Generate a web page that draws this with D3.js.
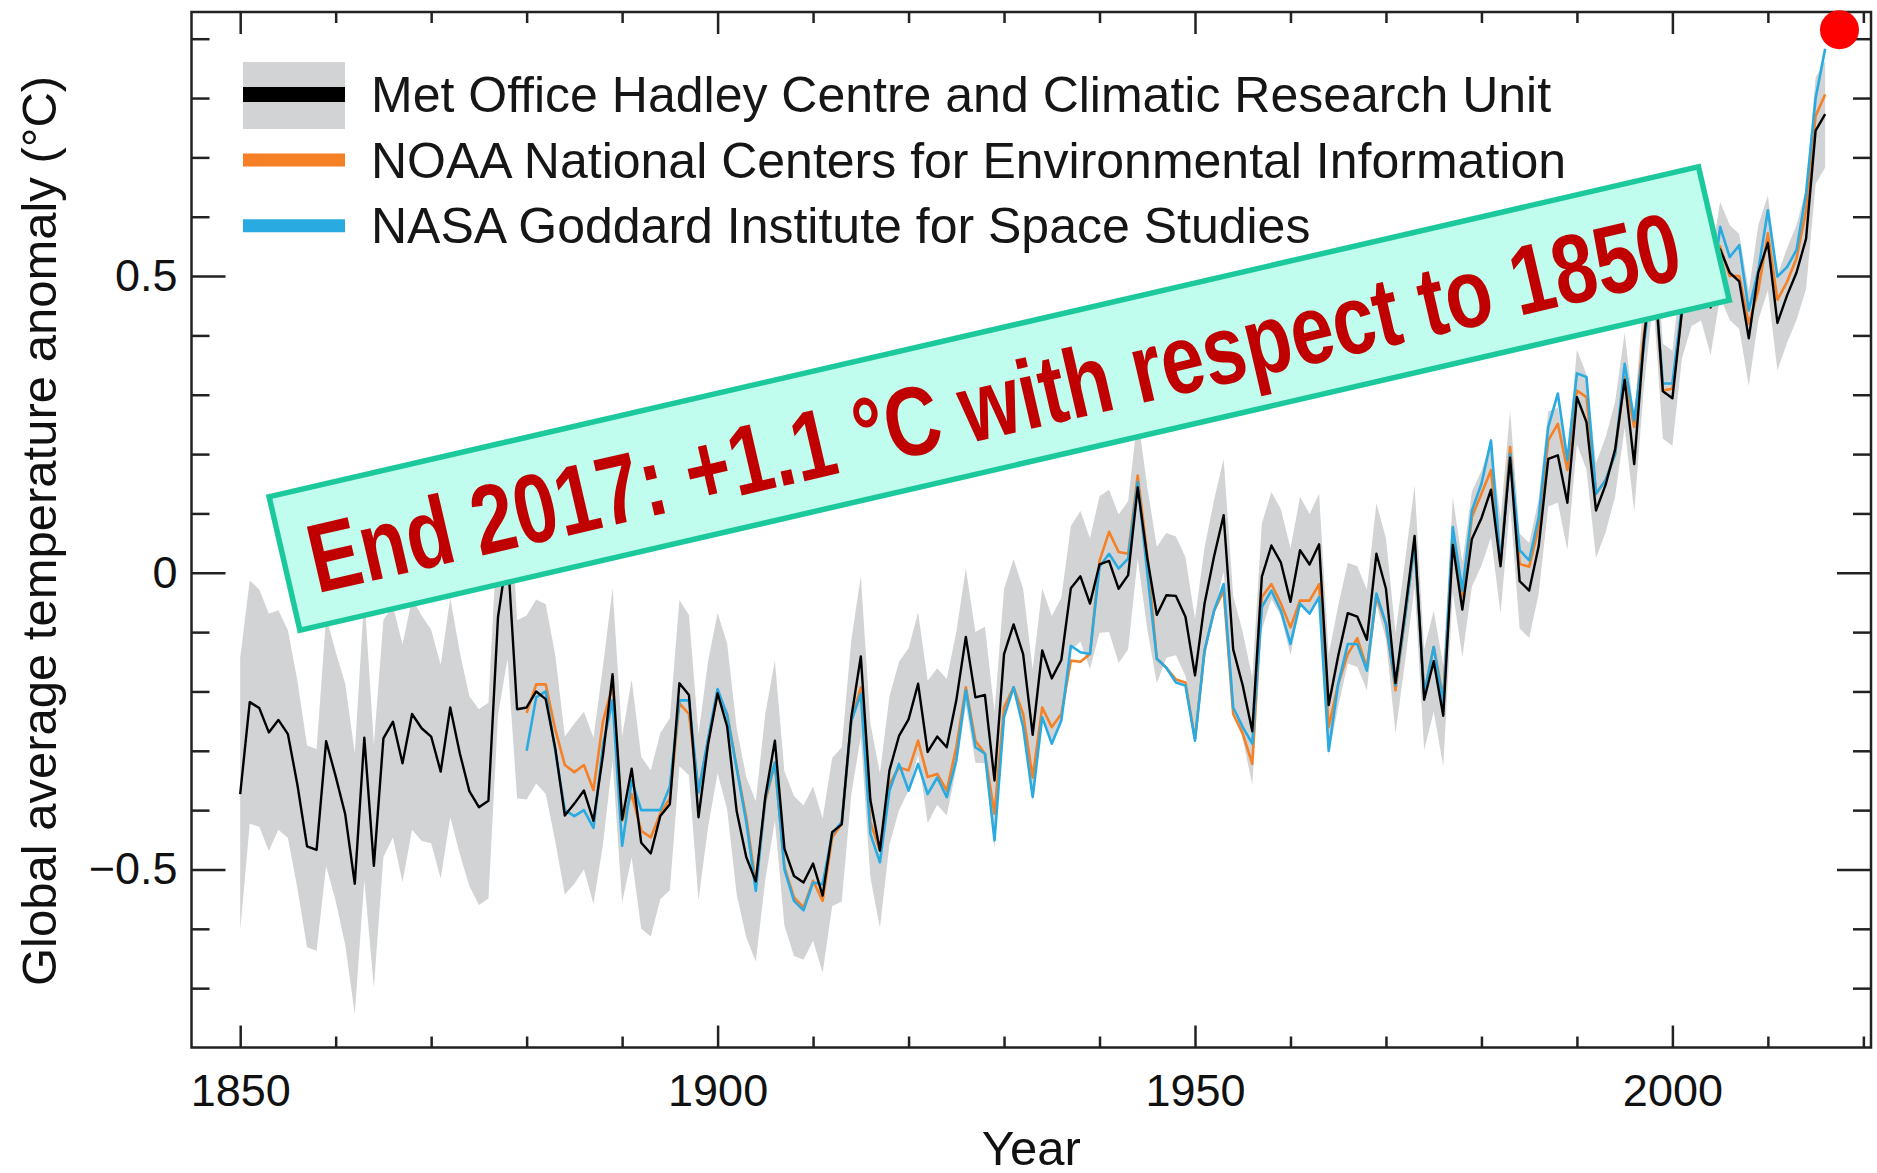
<!DOCTYPE html>
<html lang="en">
<head>
<meta charset="UTF-8">
<title>Global average temperature anomaly</title>
<script src="https://cdn.jsdelivr.net/npm/d3@7"></script>
<style>
  body { margin: 0; background: #fff; }
  svg { display: block; }
  text { font-family: "Liberation Sans", Arial, Helvetica, sans-serif; }
</style>
</head>
<body>
<svg id="chart" width="1877" height="1173"></svg>
<script>
// annual anomalies (deg C, relative to 1961-1990)
const hadStart = 1850;
const hadcrut = [
  -0.373, -0.218, -0.228, -0.269, -0.248, -0.272, -0.358, -0.461, -0.467, -0.284,
  -0.343, -0.407, -0.524, -0.278, -0.494, -0.279, -0.251, -0.321, -0.238, -0.262,
  -0.276, -0.335, -0.227, -0.304, -0.368, -0.395, -0.384, -0.075, 0.035, -0.230,
  -0.227, -0.200, -0.213, -0.296, -0.409, -0.389, -0.367, -0.418, -0.307, -0.171,
  -0.416, -0.330, -0.455, -0.473, -0.410, -0.390, -0.186, -0.206, -0.412, -0.289,
  -0.203, -0.259, -0.402, -0.479, -0.520, -0.377, -0.283, -0.465, -0.511, -0.522,
  -0.490, -0.544, -0.437, -0.424, -0.244, -0.141, -0.383, -0.468, -0.333, -0.275,
  -0.247, -0.187, -0.302, -0.276, -0.294, -0.215, -0.108, -0.210, -0.206, -0.350,
  -0.137, -0.087, -0.137, -0.273, -0.131, -0.178, -0.147, -0.026, -0.006, -0.052,
  0.014, 0.020, -0.027, -0.004, 0.144, 0.025, -0.071, -0.038, -0.039, -0.074,
  -0.173, -0.052, 0.028, 0.097, -0.129, -0.190, -0.267, -0.007, 0.046, 0.017,
  -0.049, 0.038, 0.014, 0.048, -0.223, -0.140, -0.068, -0.074, -0.113, 0.032,
  -0.027, -0.186, -0.065, 0.062, -0.214, -0.149, -0.241, 0.047, -0.062, 0.057,
  0.092, 0.140, 0.011, 0.194, -0.014, -0.030, 0.045, 0.192, 0.198, 0.118,
  0.296, 0.254, 0.105, 0.148, 0.208, 0.325, 0.183, 0.390, 0.539, 0.306,
  0.294, 0.441, 0.496, 0.505, 0.447, 0.545, 0.506, 0.491, 0.395, 0.506,
  0.556, 0.421, 0.467, 0.506, 0.563, 0.745, 0.773
];
// half width of the grey uncertainty band around hadcrut
const hadcrutRange = [
  0.23, 0.205, 0.20, 0.20, 0.185, 0.175, 0.175, 0.17, 0.17, 0.21,
  0.21, 0.22, 0.22, 0.24, 0.205, 0.20, 0.195, 0.20, 0.195, 0.19,
  0.18, 0.18, 0.185, 0.17, 0.16, 0.165, 0.165, 0.165, 0.18, 0.15,
  0.155, 0.155, 0.16, 0.157, 0.133, 0.135, 0.133, 0.14, 0.15, 0.145,
  0.14, 0.15, 0.145, 0.14, 0.14, 0.145, 0.14, 0.135, 0.14, 0.14,
  0.135, 0.14, 0.14, 0.135, 0.135, 0.14, 0.135, 0.13, 0.135, 0.13,
  0.13, 0.13, 0.125, 0.13, 0.13, 0.135, 0.13, 0.13, 0.125, 0.125,
  0.12, 0.12, 0.12, 0.115, 0.115, 0.115, 0.115, 0.11, 0.115, 0.115,
  0.11, 0.11, 0.11, 0.11, 0.105, 0.105, 0.105, 0.105, 0.11, 0.11,
  0.115, 0.12, 0.125, 0.125, 0.12, 0.12, 0.115, 0.105, 0.10, 0.10,
  0.095, 0.095, 0.095, 0.095, 0.09, 0.09, 0.09, 0.09, 0.09, 0.09,
  0.09, 0.09, 0.085, 0.085, 0.085, 0.085, 0.085, 0.085, 0.085, 0.085,
  0.085, 0.085, 0.085, 0.085, 0.085, 0.085, 0.085, 0.08, 0.08, 0.08,
  0.08, 0.08, 0.08, 0.08, 0.08, 0.08, 0.08, 0.08, 0.08, 0.08,
  0.08, 0.08, 0.08, 0.08, 0.08, 0.08, 0.08, 0.08, 0.08, 0.08,
  0.08, 0.08, 0.08, 0.08, 0.08, 0.08, 0.08, 0.08, 0.08, 0.08,
  0.08, 0.08, 0.08, 0.08, 0.085, 0.09, 0.09
];

const otherStart = 1880;
const noaa = [
  -0.236, -0.188, -0.188, -0.264, -0.324, -0.336, -0.324, -0.366, -0.25, -0.19,
  -0.418, -0.373, -0.435, -0.446, -0.406, -0.38, -0.22, -0.238, -0.367, -0.283,
  -0.204, -0.238, -0.328, -0.412, -0.524, -0.384, -0.322, -0.496, -0.547, -0.564,
  -0.519, -0.553, -0.446, -0.423, -0.25, -0.193, -0.42, -0.468, -0.356, -0.328,
  -0.333, -0.283, -0.344, -0.339, -0.367, -0.294, -0.193, -0.283, -0.305, -0.406,
  -0.227, -0.193, -0.238, -0.345, -0.227, -0.26, -0.238, -0.148, -0.15, -0.137,
  0.02, 0.069, 0.035, 0.032, 0.164, 0.03, -0.145, -0.16, -0.18, -0.185,
  -0.28, -0.131, -0.064, -0.03, -0.238, -0.271, -0.322, -0.041, -0.019, -0.052,
  -0.092, -0.047, -0.047, -0.019, -0.26, -0.187, -0.137, -0.11, -0.16, -0.04,
  -0.086, -0.198, -0.075, 0.049, -0.204, -0.125, -0.21, 0.06, -0.04, 0.094,
  0.133, 0.173, 0.015, 0.212, 0.015, 0.01, 0.077, 0.223, 0.251, 0.173,
  0.307, 0.296, 0.133, 0.156, 0.20, 0.33, 0.246, 0.40, 0.52, 0.307,
  0.31, 0.44, 0.49, 0.50, 0.46, 0.55, 0.50, 0.50, 0.42, 0.476,
  0.572, 0.46, 0.49, 0.53, 0.61, 0.77, 0.806
];
const nasa = [
  -0.30, -0.21, -0.20, -0.30, -0.40, -0.41, -0.40, -0.43, -0.29, -0.215,
  -0.46, -0.35, -0.40, -0.40, -0.40, -0.36, -0.215, -0.215, -0.37, -0.28,
  -0.196, -0.24, -0.33, -0.42, -0.536, -0.38, -0.32, -0.50, -0.553, -0.569,
  -0.522, -0.525, -0.44, -0.42, -0.25, -0.204, -0.44, -0.488, -0.367, -0.322,
  -0.367, -0.322, -0.373, -0.345, -0.378, -0.316, -0.198, -0.294, -0.305, -0.451,
  -0.243, -0.193, -0.26, -0.378, -0.243, -0.288, -0.249, -0.123, -0.134, -0.137,
  0.01, 0.032, 0.007, 0.024, 0.153, 0.0, -0.145, -0.16, -0.185, -0.19,
  -0.283, -0.131, -0.064, -0.019, -0.227, -0.26, -0.288, -0.058, -0.03, -0.064,
  -0.12, -0.052, -0.069, -0.041, -0.30, -0.187, -0.12, -0.12, -0.165, -0.035,
  -0.086, -0.19, -0.075, 0.049, -0.204, -0.125, -0.22, 0.077, -0.03, 0.105,
  0.15, 0.223, 0.015, 0.20, 0.038, 0.021, 0.094, 0.246, 0.302, 0.19,
  0.336, 0.33, 0.133, 0.156, 0.20, 0.352, 0.257, 0.38, 0.52, 0.319,
  0.319, 0.45, 0.53, 0.52, 0.45, 0.583, 0.532, 0.552, 0.442, 0.51,
  0.611, 0.499, 0.515, 0.544, 0.64, 0.80, 0.883
];

// red dot marking end of 2017
const endMarker = [{ year: 2017.5, value: 0.915 }];

const legendItems = [
  { label: "Met Office Hadley Centre and Climatic Research Unit", color: "#000000", band: true },
  { label: "NOAA National Centers for Environmental Information", color: "#f58025" },
  { label: "NASA Goddard Institute for Space Studies", color: "#29abe2" }
];
const noteText = "End 2017: +1.1 \u00B0C with respect to 1850";

const yMajor = [-0.5, 0, 0.5];
const yMinor = [-0.7, -0.6, -0.4, -0.3, -0.2, -0.1, 0.1, 0.2, 0.3, 0.4, 0.6, 0.7, 0.8, 0.9];
const xMajor = [1850, 1900, 1950, 2000];
const xMinor = [1860, 1870, 1880, 1890, 1910, 1920, 1930, 1940, 1960, 1970, 1980, 1990, 2010, 2020];

// layout
const plot = { left: 191.5, right: 1871, top: 12, bottom: 1047.5 };
const svg = d3.select("#chart");

const x = d3.scaleLinear().domain([1844.9, 2020.8]).range([plot.left, plot.right]);
const y = d3.scaleLinear().domain([-0.8, 0.945]).range([plot.bottom, plot.top]);

const hadData = hadcrut.map((v, i) => ({ year: hadStart + i, value: v, lo: v - hadcrutRange[i], hi: v + hadcrutRange[i] }));
const noaaData = noaa.map((v, i) => ({ year: otherStart + i, value: v }));
const nasaData = nasa.map((v, i) => ({ year: otherStart + i, value: v }));

svg.append("defs").append("clipPath").attr("id", "plotclip")
  .append("rect")
  .attr("x", plot.left).attr("y", plot.top)
  .attr("width", plot.right - plot.left).attr("height", plot.bottom - plot.top);

const g = svg.append("g").attr("clip-path", "url(#plotclip)");

// uncertainty band
g.append("path")
  .datum(hadData)
  .attr("fill", "#d1d3d4")
  .attr("d", d3.area().x(d => x(d.year)).y0(d => y(d.lo)).y1(d => y(d.hi)));

const line = d3.line().x(d => x(d.year)).y(d => y(d.value));

g.append("path").datum(noaaData)
  .attr("fill", "none").attr("stroke", "#f58025").attr("stroke-width", 2.6)
  .attr("stroke-linejoin", "round").attr("d", line);
g.append("path").datum(nasaData)
  .attr("fill", "none").attr("stroke", "#29abe2").attr("stroke-width", 2.6)
  .attr("stroke-linejoin", "round").attr("d", line);
g.append("path").datum(hadData)
  .attr("fill", "none").attr("stroke", "#000").attr("stroke-width", 2.4)
  .attr("stroke-linejoin", "round").attr("d", line);

// axes: ticks point inwards on all four sides
function styleAxis(sel) {
  sel.select(".domain").remove();
  sel.selectAll(".tick line").attr("stroke", "#222").attr("stroke-width", 2.5);
  sel.selectAll(".tick text").attr("fill", "#111").style("font-size", "45px")
    .style("font-family", "'Liberation Sans', Arial, sans-serif");
}
const yFmt = d => d === 0 ? "0" : d3.format(".1f")(d);

svg.append("g").attr("transform", `translate(${plot.left},0)`)
  .call(d3.axisLeft(y).tickValues(yMajor).tickSize(-34).tickPadding(14).tickFormat(yFmt))
  .call(styleAxis);
svg.append("g").attr("transform", `translate(${plot.left},0)`)
  .call(d3.axisLeft(y).tickValues(yMinor).tickSize(-18).tickFormat(""))
  .call(styleAxis);
svg.append("g").attr("transform", `translate(${plot.right},0)`)
  .call(d3.axisRight(y).tickValues(yMajor).tickSize(-34).tickFormat(""))
  .call(styleAxis);
svg.append("g").attr("transform", `translate(${plot.right},0)`)
  .call(d3.axisRight(y).tickValues(yMinor).tickSize(-18).tickFormat(""))
  .call(styleAxis);

svg.append("g").attr("transform", `translate(0,${plot.bottom})`)
  .call(d3.axisBottom(x).tickValues(xMajor).tickSize(-22).tickPadding(27).tickFormat(d3.format("d")))
  .call(styleAxis);
svg.append("g").attr("transform", `translate(0,${plot.bottom})`)
  .call(d3.axisBottom(x).tickValues(xMinor).tickSize(-11).tickFormat(""))
  .call(styleAxis);
svg.append("g").attr("transform", `translate(0,${plot.top})`)
  .call(d3.axisTop(x).tickValues(xMajor).tickSize(-22).tickFormat(""))
  .call(styleAxis);
svg.append("g").attr("transform", `translate(0,${plot.top})`)
  .call(d3.axisTop(x).tickValues(xMinor).tickSize(-11).tickFormat(""))
  .call(styleAxis);

// frame
svg.append("rect")
  .attr("x", plot.left).attr("y", plot.top)
  .attr("width", plot.right - plot.left).attr("height", plot.bottom - plot.top)
  .attr("fill", "none").attr("stroke", "#222").attr("stroke-width", 2.5);

// axis titles
svg.append("text")
  .attr("x", (plot.left + plot.right) / 2).attr("y", 1165)
  .attr("text-anchor", "middle").attr("fill", "#111")
  .style("font-size", "49px").text("Year");
svg.append("text")
  .attr("transform", "translate(56,531) rotate(-90)")
  .attr("text-anchor", "middle").attr("fill", "#111")
  .style("font-size", "49px").text("Global average temperature anomaly (\u00B0C)");

// legend
const legend = svg.append("g");
legendItems.forEach((item, i) => {
  const cy = 94.5 + i * 65.6;
  if (item.band) {
    legend.append("rect").attr("x", 243).attr("y", 62).attr("width", 102).attr("height", 67)
      .attr("fill", "#d1d3d4");
  }
  legend.append("line")
    .attr("x1", 243).attr("x2", 345).attr("y1", cy).attr("y2", cy)
    .attr("stroke", item.color).attr("stroke-width", item.band ? 15 : 13);
  legend.append("text")
    .attr("x", 371).attr("y", cy + 17.5)
    .attr("fill", "#161616").style("font-size", "50px")
    .text(item.label);
});

// annotation box
const note = svg.append("g").attr("transform", "translate(999.2,398.5) rotate(-13)");
note.append("rect")
  .attr("x", -733.5).attr("y", -68.5).attr("width", 1467).attr("height", 137)
  .attr("fill", "#c1fdee").attr("stroke", "#1cc99c").attr("stroke-width", 5.5);
note.append("text")
  .attr("x", -6).attr("y", 36.6)
  .attr("text-anchor", "middle")
  .attr("textLength", 1405).attr("lengthAdjust", "spacingAndGlyphs")
  .attr("fill", "#c00000")
  .style("font-family", "'Liberation Sans Narrow', 'Liberation Sans', Arial, sans-serif")
  .style("font-weight", "bold").style("font-size", "98px")
  .text(noteText);

// end-2017 marker
svg.selectAll("circle.end").data(endMarker).enter().append("circle")
  .attr("class", "end")
  .attr("cx", d => x(d.year)).attr("cy", d => y(d.value)).attr("r", 19.5)
  .attr("fill", "#ff0000");
</script>
</body>
</html>
